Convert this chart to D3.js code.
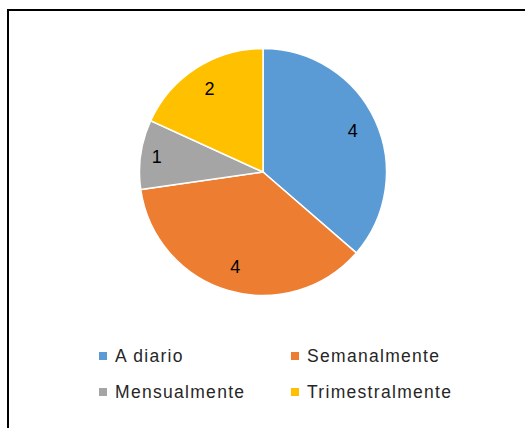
<!DOCTYPE html>
<html lang="es">
<head>
  <meta charset="UTF-8">
  <style>
    html, body { margin: 0; padding: 0; background: #fff; }
    svg { display: block; }
    .slice { stroke: #fff; stroke-width: 1.5; }
    .slice-label {
      font-family: "Liberation Sans", Arial, sans-serif;
      font-size: 18px;
      fill: #000;
      text-anchor: middle;
      dominant-baseline: central;
    }
    .legend-text {
      font-family: "Liberation Sans", Arial, sans-serif;
      font-size: 17.5px;
      letter-spacing: 1.3px;
      fill: #262626;
    }
  </style>
  <script src="https://d3js.org/d3.v7.min.js"></script>
</head>
<body>
  <svg width="525" height="428"></svg>

  <script>
    // categories and values, read clockwise from 12 o'clock
    const categories = ["A diario", "Semanalmente", "Mensualmente", "Trimestralmente"];
    const values = [4, 4, 1, 2];
    const colors = ["#5B9BD5", "#ED7D31", "#A5A5A5", "#FFC000"];

    const svg = d3.select("svg");

    // chart frame (only the top and left edges are inside the window)
    svg.append("rect")
      .attr("x", 8).attr("y", 10)
      .attr("width", 540).attr("height", 440)
      .attr("fill", "none")
      .attr("stroke", "#000")
      .attr("stroke-width", 2);

    const cx = 263, cy = 172, r = 123.5;

    const pie = d3.pie().sort(null).value(d => d);
    const arcs = pie(values);

    const arc = d3.arc().innerRadius(0).outerRadius(r);

    const g = svg.append("g").attr("transform", `translate(${cx},${cy})`);

    g.selectAll(".slice")
      .data(arcs)
      .enter()
      .append("path")
      .attr("class", "slice")
      .attr("d", arc)
      .attr("fill", (d, i) => colors[i]);

    // data labels, small slices are pushed a bit further out
    const total = d3.sum(values);
    g.selectAll(".slice-label")
      .data(arcs)
      .enter()
      .append("text")
      .attr("class", "slice-label")
      .attr("transform", d => {
        const lr = d.value / total < 0.12 ? r * 0.87 : r * 0.8;
        const a = (d.startAngle + d.endAngle) / 2;
        return `translate(${Math.sin(a) * lr},${-Math.cos(a) * lr})`;
      })
      .text(d => d.value);

    // legend, 2 x 2
    const legendX = [99, 291];
    const legendY = [356, 392];

    const items = svg.selectAll(".legend-item")
      .data(categories)
      .enter()
      .append("g")
      .attr("class", "legend-item")
      .attr("transform", (d, i) => `translate(${legendX[i % 2]},${legendY[Math.floor(i / 2)]})`);

    items.append("rect")
      .attr("x", 0).attr("y", -4)
      .attr("width", 8).attr("height", 8)
      .attr("fill", (d, i) => colors[i]);

    items.append("text")
      .attr("class", "legend-text")
      .attr("x", 16)
      .attr("y", 6)
      .text(d => d);
  </script>
</body>
</html>
